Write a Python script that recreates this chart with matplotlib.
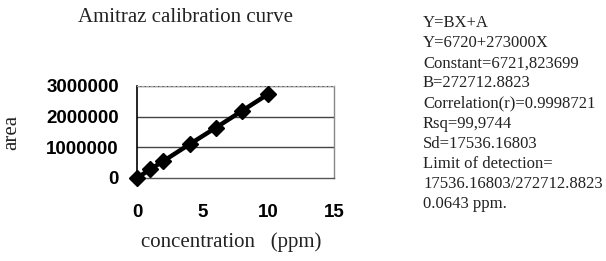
import matplotlib
matplotlib.use("Agg")
import matplotlib.pyplot as plt

conc = [0, 1, 2, 4, 6, 8, 10]
area = [0, 280000, 550000, 1100000, 1640000, 2190000, 2740000]
x_ticks = [0, 5, 10, 15]
y_ticks = [0, 1000000, 2000000, 3000000]
info_lines = [
    "Y=BX+A",
    "Y=6720+273000X",
    "Constant=6721,823699",
    "B=272712.8823",
    "Correlation(r)=0.9998721",
    "Rsq=99,9744",
    "Sd=17536.16803",
    "Limit of detection=",
    "17536.16803/272712.8823",
    "0.0643 ppm.",
]

W, H = 606, 261
fig = plt.figure(figsize=(W / 100, H / 100), dpi=100)
ax = fig.add_axes([137 / W, 1 - 178 / H, (334 - 137) / W, (178 - 86) / H])

ax.plot(conc, area, color="black", lw=3.2, marker="D", ms=8, mfc="black", mec="black", zorder=3,
        clip_on=False)
ax.set_xlim(0, 15)
ax.set_ylim(0, 3000000)
ax.set_xticks(x_ticks)
ax.set_yticks(y_ticks)
ax.set_xticklabels([str(v) for v in x_ticks], fontsize=13.5, fontweight="bold", family="Liberation Sans")
ax.set_yticklabels([str(v) for v in y_ticks], fontsize=13.5, fontweight="bold", family="Liberation Sans")
ax.tick_params(axis="y", length=0, pad=13)
ax.tick_params(axis="x", length=0, pad=19)
for yv in y_ticks[1:]:
    ax.axhline(yv, color="#444444", lw=1.0, zorder=1)
ax.spines["left"].set_color("black")
ax.spines["left"].set_linewidth(1.2)
ax.spines["bottom"].set_color("#555555")
ax.spines["bottom"].set_linewidth(1.0)
ax.spines["right"].set_color("#888888")
ax.spines["right"].set_linewidth(1.0)
ax.spines["top"].set_color("#aaaaaa")
ax.spines["top"].set_linestyle((0, (2, 2)))

fig.text(186 / W, 1 - 18 / H, "Amitraz calibration curve", ha="center", va="center",
         fontsize=15, family="Liberation Serif", color="#222222")
fig.text(12 / W, 1 - 132 / H, "area", ha="center", va="center", rotation=90,
         fontsize=15, family="Liberation Serif", color="#222222")
fig.text(231 / W, 1 - 242 / H, "concentration   (ppm)", ha="center", va="center",
         fontsize=15, family="Liberation Serif", color="#222222")

y0 = 23
for i, line in enumerate(info_lines):
    fig.text(423 / W, 1 - (y0 + i * 20.1) / H, line, ha="left", va="center",
             fontsize=12, family="Liberation Serif", color="#222222")

fig.savefig("out.png", dpi=100)
